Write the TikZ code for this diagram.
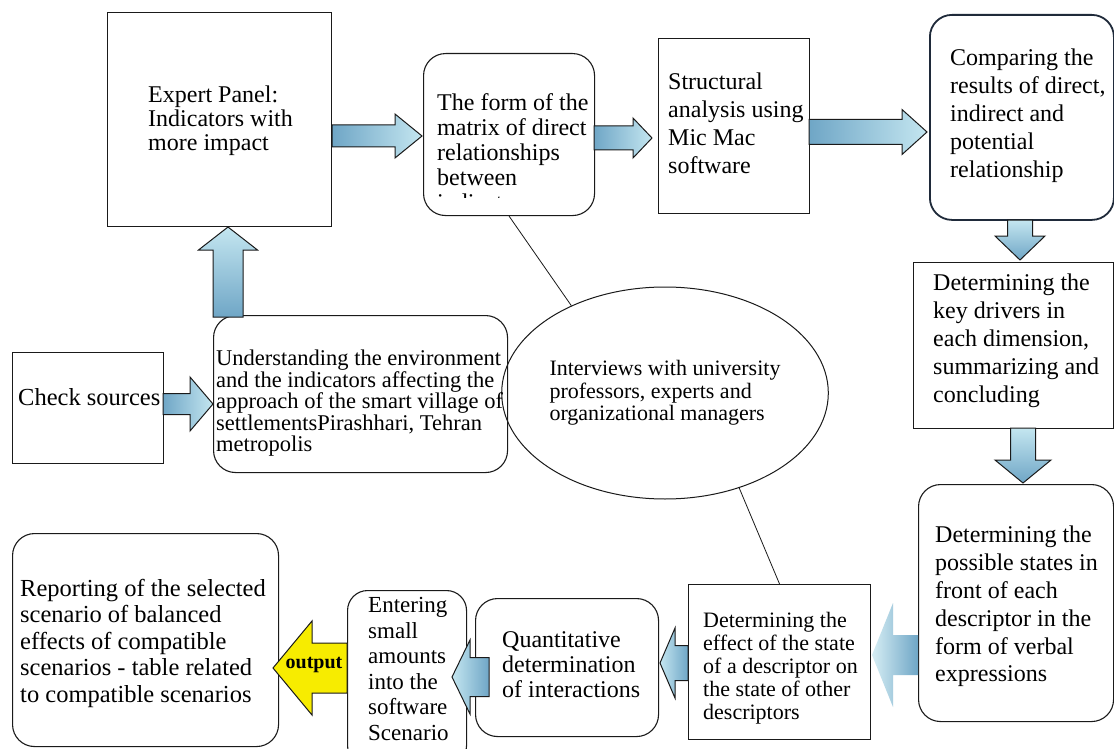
\documentclass[tikz,border=0pt]{standalone}
\usepackage{fontspec}
\setmainfont{Liberation Serif}
\usetikzlibrary{shapes.geometric}

\definecolor{arrdark}{HTML}{6FA6C6}
\definecolor{arrlight}{HTML}{C4E6F0}
\definecolor{edgec}{HTML}{1A1A1A}
\definecolor{navy}{HTML}{1F2A3A}
\definecolor{yel}{HTML}{F7EC00}

% horizontal block arrow: style, tail x, head-base x, tip x, centre y, shaft half, head half
\newcommand\hblk[7]{\path[#1] (#2,#5-#6) -- (#3,#5-#6) -- (#3,#5-#7) -- (#4,#5) -- (#3,#5+#7) -- (#3,#5+#6) -- (#2,#5+#6) -- cycle;}
% vertical block arrow: style, tail y, head-base y, tip y, centre x, shaft half, head half
\newcommand\vblk[7]{\path[#1] (#5-#6,#2) -- (#5-#6,#3) -- (#5-#7,#3) -- (#5,#4) -- (#5+#7,#3) -- (#5+#6,#3) -- (#5+#6,#2) -- cycle;}

\tikzset{
  box/.style={draw=edgec, line width=1.1pt, fill=white, inner sep=0pt, anchor=north west},
  rbox/.style={box, rounded corners=22pt},
  txt/.style={inner sep=0pt, anchor=north west, align=left, font=\fontsize{24}{28}\selectfont},
  harr/.style={draw=edgec, line width=1pt, left color=arrdark, right color=arrlight},
  harrl/.style={draw=edgec, line width=1pt, left color=arrlight, right color=arrdark},
  varr/.style={draw=edgec, line width=1pt, top color=arrlight, bottom color=arrdark},
  softarr/.style={left color=arrlight!70!white, right color=arrdark},
  yarr/.style={draw=edgec, line width=1pt, fill=yel},
  thin/.style={draw=edgec, line width=0.8pt}
}

\begin{document}
\begin{tikzpicture}[x=1pt,y=-1pt]
\useasboundingbox (0,0) rectangle (1114,749);
\fill[white] (0,0) rectangle (1114,749);

% ---------- boxes ----------
\node[box, minimum width=224, minimum height=214] (ep) at (107,12) {};
\node[rbox, minimum width=171, minimum height=162] (fm) at (423,53) {};
\node[box, minimum width=151, minimum height=175] (sa) at (658,38) {};
\node[rbox, draw=navy, line width=1.8pt, minimum width=184, minimum height=205] (cp) at (929,14) {};
\node[box, minimum width=200, minimum height=166] (kd) at (913,262) {};
\node[rbox, minimum width=195, minimum height=237] (ps) at (918,484) {};
\node[box, minimum width=182, minimum height=155] (ef) at (688,584) {};
\node[rbox, minimum width=183, minimum height=138] (qd) at (475,598) {};
\node[rbox, rounded corners=20pt, minimum width=119, minimum height=175] (en) at (347,590) {};
\node[rbox, minimum width=266, minimum height=213] (rp) at (12,533) {};
\node[box, minimum width=151, minimum height=111] (cs) at (12,352) {};
\node[rbox, minimum width=294, minimum height=157] (un) at (213,315) {};
\node[draw=edgec, line width=1pt, ellipse, minimum width=280, minimum height=212, inner sep=0pt,
      align=left, font=\fontsize{22}{22.5}\selectfont] (iv) at (665,393)
  {Interviews with university\\professors, experts and\\organizational managers};

% ---------- texts ----------
\node[txt, font=\fontsize{24}{24}\selectfont] (tep) at (148,86) {Expert Panel:\\Indicators with\\more impact};
\begin{scope}
  \clip (423,53) rectangle (594,197);
  \node[txt, font=\fontsize{24}{25}\selectfont] (tfm) at (437,93) {The form of the\\matrix of direct\\relationships\\between\\indicators};
\end{scope}
\node[txt] (tsa) at (668,73) {Structural\\analysis using\\Mic Mac\\software};
\node[txt] (tcp) at (950,49) {Comparing the\\results of direct,\\indirect and\\potential\\relationship};
\node[txt] (tkd) at (933,274) {Determining the\\key drivers in\\each dimension,\\summarizing and\\concluding};
\node[txt, font=\fontsize{24}{27.8}\selectfont] (tps) at (935,526) {Determining the\\possible states in\\front of each\\descriptor in the\\form of verbal\\expressions};
\node[txt, font=\fontsize{22}{23}\selectfont] (tef) at (703,612) {Determining the\\effect of the state\\of a descriptor on\\the state of other\\descriptors};
\node[txt, font=\fontsize{24}{25}\selectfont] (tqd) at (502,631) {Quantitative\\determination\\of interactions};
\node[txt, font=\fontsize{23}{25.6}\selectfont] (ten) at (368,597) {Entering\\small\\amounts\\into the\\software\\Scenario};
\node[txt, font=\fontsize{24.5}{26.5}\selectfont] (trp) at (20,579) {Reporting of the selected\\scenario of balanced\\effects of compatible\\scenarios - table related\\to compatible scenarios};
\node[txt, font=\fontsize{24.5}{26}\selectfont] (tcs) at (18,388) {Check sources};
\node[txt, font=\fontsize{22.5}{21.5}\selectfont] (tun) at (216,350) {Understanding the environment\\and the indicators affecting the\\approach of the smart village of\\settlementsPirashhari, Tehran\\metropolis};

% ---------- thin connectors ----------
\draw[thin] (fm.south) -- (iv.137);
\draw[thin] (iv.-52) -- (ef.north);

% ---------- block arrows ----------
\hblk{harr}{332}{395}{422}{136}{11}{22}
\hblk{harr}{594}{633}{652}{138}{12}{20}
\hblk{harr}{809}{902}{927}{132}{12.5}{22.5}
\vblk{varr}{220}{236}{260}{1020}{12.5}{25}
\vblk{varr}{428}{460}{483}{1023}{12.5}{28}
\hblk{softarr}{918}{893}{872}{655}{20}{52}
\hblk{harrl}{688}{675}{660}{663}{17.5}{35}
\hblk{harrl}{489}{470}{452}{677}{19.5}{37}
\hblk{yarr}{347}{312}{273}{668}{25}{47}
\hblk{harr}{163}{190}{213}{404}{10.5}{27}
\vblk{varr}{317}{250}{227}{228}{15}{29.5}

\node[inner sep=0pt, font=\fontsize{20}{20}\selectfont\bfseries] (out) at (314,665) {output};
\end{tikzpicture}
\end{document}
